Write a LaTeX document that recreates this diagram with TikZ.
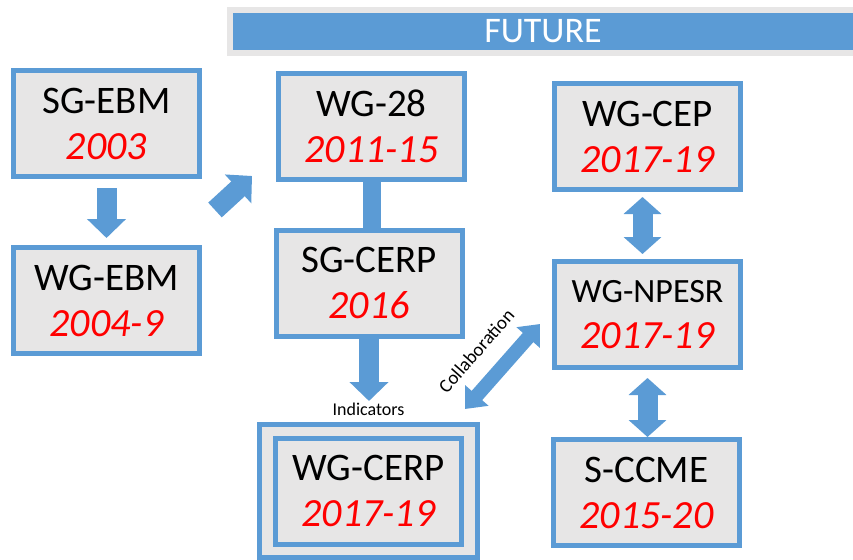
\documentclass[tikz,border=0pt]{standalone}
\usepackage{fontspec}
\setmainfont{Carlito}
\usetikzlibrary{positioning,arrows.meta,calc}
\definecolor{boxblue}{HTML}{5B9BD5}
\definecolor{boxgray}{HTML}{E7E6E6}
\begin{document}
\begin{tikzpicture}[
		x={(1pt,0pt)},
		y={(0pt,-1pt)},
		box/.style={draw=boxblue,fill=boxgray,line width=5pt,minimum width=186pt,minimum height=106pt,inner sep=0pt,align=center,font=\fontsize{39}{46}\selectfont},
		fat/.style={draw=boxblue,line width=20pt,-{Triangle[length=19pt,width=38pt]}},
		dfat/.style={draw=boxblue,line width=20pt,{Triangle[length=17pt,width=37pt]}-{Triangle[length=17pt,width=37pt]}},
		cfat/.style={draw=boxblue,line width=14pt,{Triangle[length=18pt,width=30pt]}-{Triangle[length=18pt,width=30pt]}},
	]
		\useasboundingbox (0,0) rectangle (853,559);
		\node[fill=boxblue,draw=boxgray,line width=6pt,minimum width=626pt,minimum height=43pt,inner sep=0pt,text=white,font=\fontsize{36}{42}\selectfont] (future) at (543,31.5) {FUTURE};
		\node[box,minimum width=218pt,minimum height=133pt] (wgcerpo) at (368.5,491) {};
		
		\foreach \n/\px/\py/\fs/\ti/\yr in {sgebm/106.5/123.5/39/SG-EBM/2003, wgebm/106.5/300.5/39/WG-EBM/2004-9, wg28/371.5/126.5/39/WG-28/2011-15, sgcerp/369/283/39/SG-CERP/2016, wgcerp/368.5/491/39/WG-CERP/2017-19, wgcep/647.5/136.5/39/WG-CEP/2017-19, wgnpesr/647.5/314.5/34/WG-NPESR/2017-19, sccme/646.5/492.5/39/S-CCME/2015-20}{
			\node[box] (\n) at (\px,\py) {{\fontsize{\fs}{46}\selectfont \ti}\\{\color{red}\itshape\fontsize{40}{46}\selectfont \yr}};
		}
		
		\draw[fat,shorten <=9pt,shorten >=7pt] (sgebm) -- (wgebm);
		\draw[fat] ($(sgebm.south east)+(13,31)$) -- ($(wg28.west)+(-24,49.5)$);
		\draw[draw=boxblue,line width=18pt] (wg28.south) -- (wg28.south |- sgcerp.north);
		\draw[fat,shorten >=21pt] (sgcerp.south) -- (sgcerp.south |- wgcerpo.north);
		\node[font=\fontsize{18}{22}\selectfont,above=3pt of wgcerpo] (ind) {Indicators};
		\draw[cfat] ($(wgcerpo.north east)+(-15,-13)$) -- ($(wgnpesr.west)+(-12,9.5)$) node[pos=0.45,sloped,above=13pt,font=\fontsize{19}{22}\selectfont] {Collaboration};
		\draw[dfat,shorten <=5pt,shorten >=5pt] ([xshift=-5pt]wgcep.south) -- ([xshift=-5pt]wgnpesr.north);
		\draw[dfat,shorten <=8pt] (wgnpesr.south) -- (wgnpesr.south |- sccme.north);
	\end{tikzpicture}
\end{document}
